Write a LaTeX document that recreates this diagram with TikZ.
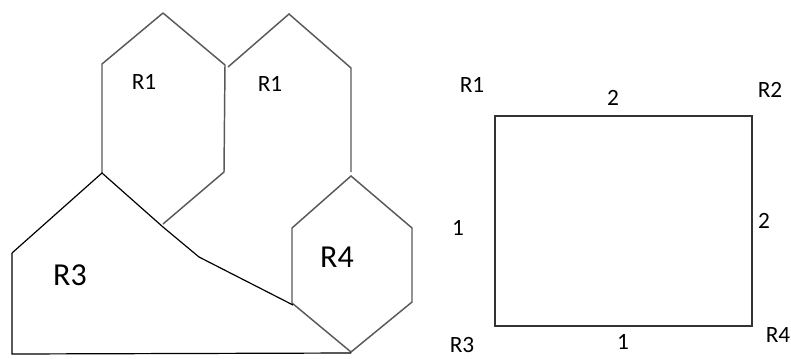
\documentclass[tikz,border=0pt]{standalone}
\usepackage{fontspec}
\setmainfont{Carlito}
\newcommand*{\smallsz}{\fontsize{17.5}{20}\selectfont}
\newcommand*{\bigsz  }{\fontsize{24}{28}\selectfont}
\tikzset{hexline/.style={draw=black!65, line width=1.1pt, line join=miter},
         regline/.style={draw=black, line width=0.9pt},
         tag/.style={inner sep=0pt, text=black}}
\begin{document}
\begin{tikzpicture}[x=0.75pt, y=-0.75pt]
    \useasboundingbox (0,0) rectangle (791,358);
        % left map
        \draw [hexline] (163,13) -- (225,65) -- (224,172) -- (163,224);
        \draw [hexline] (163,13) -- (102,64) -- (102,173);
        \draw [hexline] (228,67) -- (289,14) -- (351,68) -- (351,172);
        \draw [hexline] (351,176) -- (412,228) -- (412,302) -- (351,352) -- (292,303) -- (292,228) -- cycle;
        \draw [regline] (12,253) -- (12,354) -- (351,353);
        \draw [regline] (12,253) -- (102,173) -- (163,227) -- (199,257) -- (293,305);
        \node [tag] (l1) at (144,82) {\smallsz R1};
        \node [tag] (l2) at (270,84) {\smallsz R1};
        \node [tag] (l4) at (337,257) {\bigsz R4};
        \node [tag] (l3) at (70,275) {\bigsz R3};
        % graph
        \draw [draw=black!80, line width=1.3pt] (495,116) rectangle (752,326);
        \node [tag] (g1) at (472,85) {\smallsz R1};
        \node [tag] (g2) at (770,90) {\smallsz R2};
        \node [tag] (g3) at (462,345) {\smallsz R3};
        \node [tag] (g4) at (778,335) {\smallsz R4};
        \node [tag] (e1) at (613,98) {\smallsz 2};
        \node [tag] (e2) at (764,221) {\smallsz 2};
        \node [tag] (e3) at (458,228) {\smallsz 1};
        \node [tag] (e4) at (623,342) {\smallsz 1};
    \end{tikzpicture}
\end{document}
